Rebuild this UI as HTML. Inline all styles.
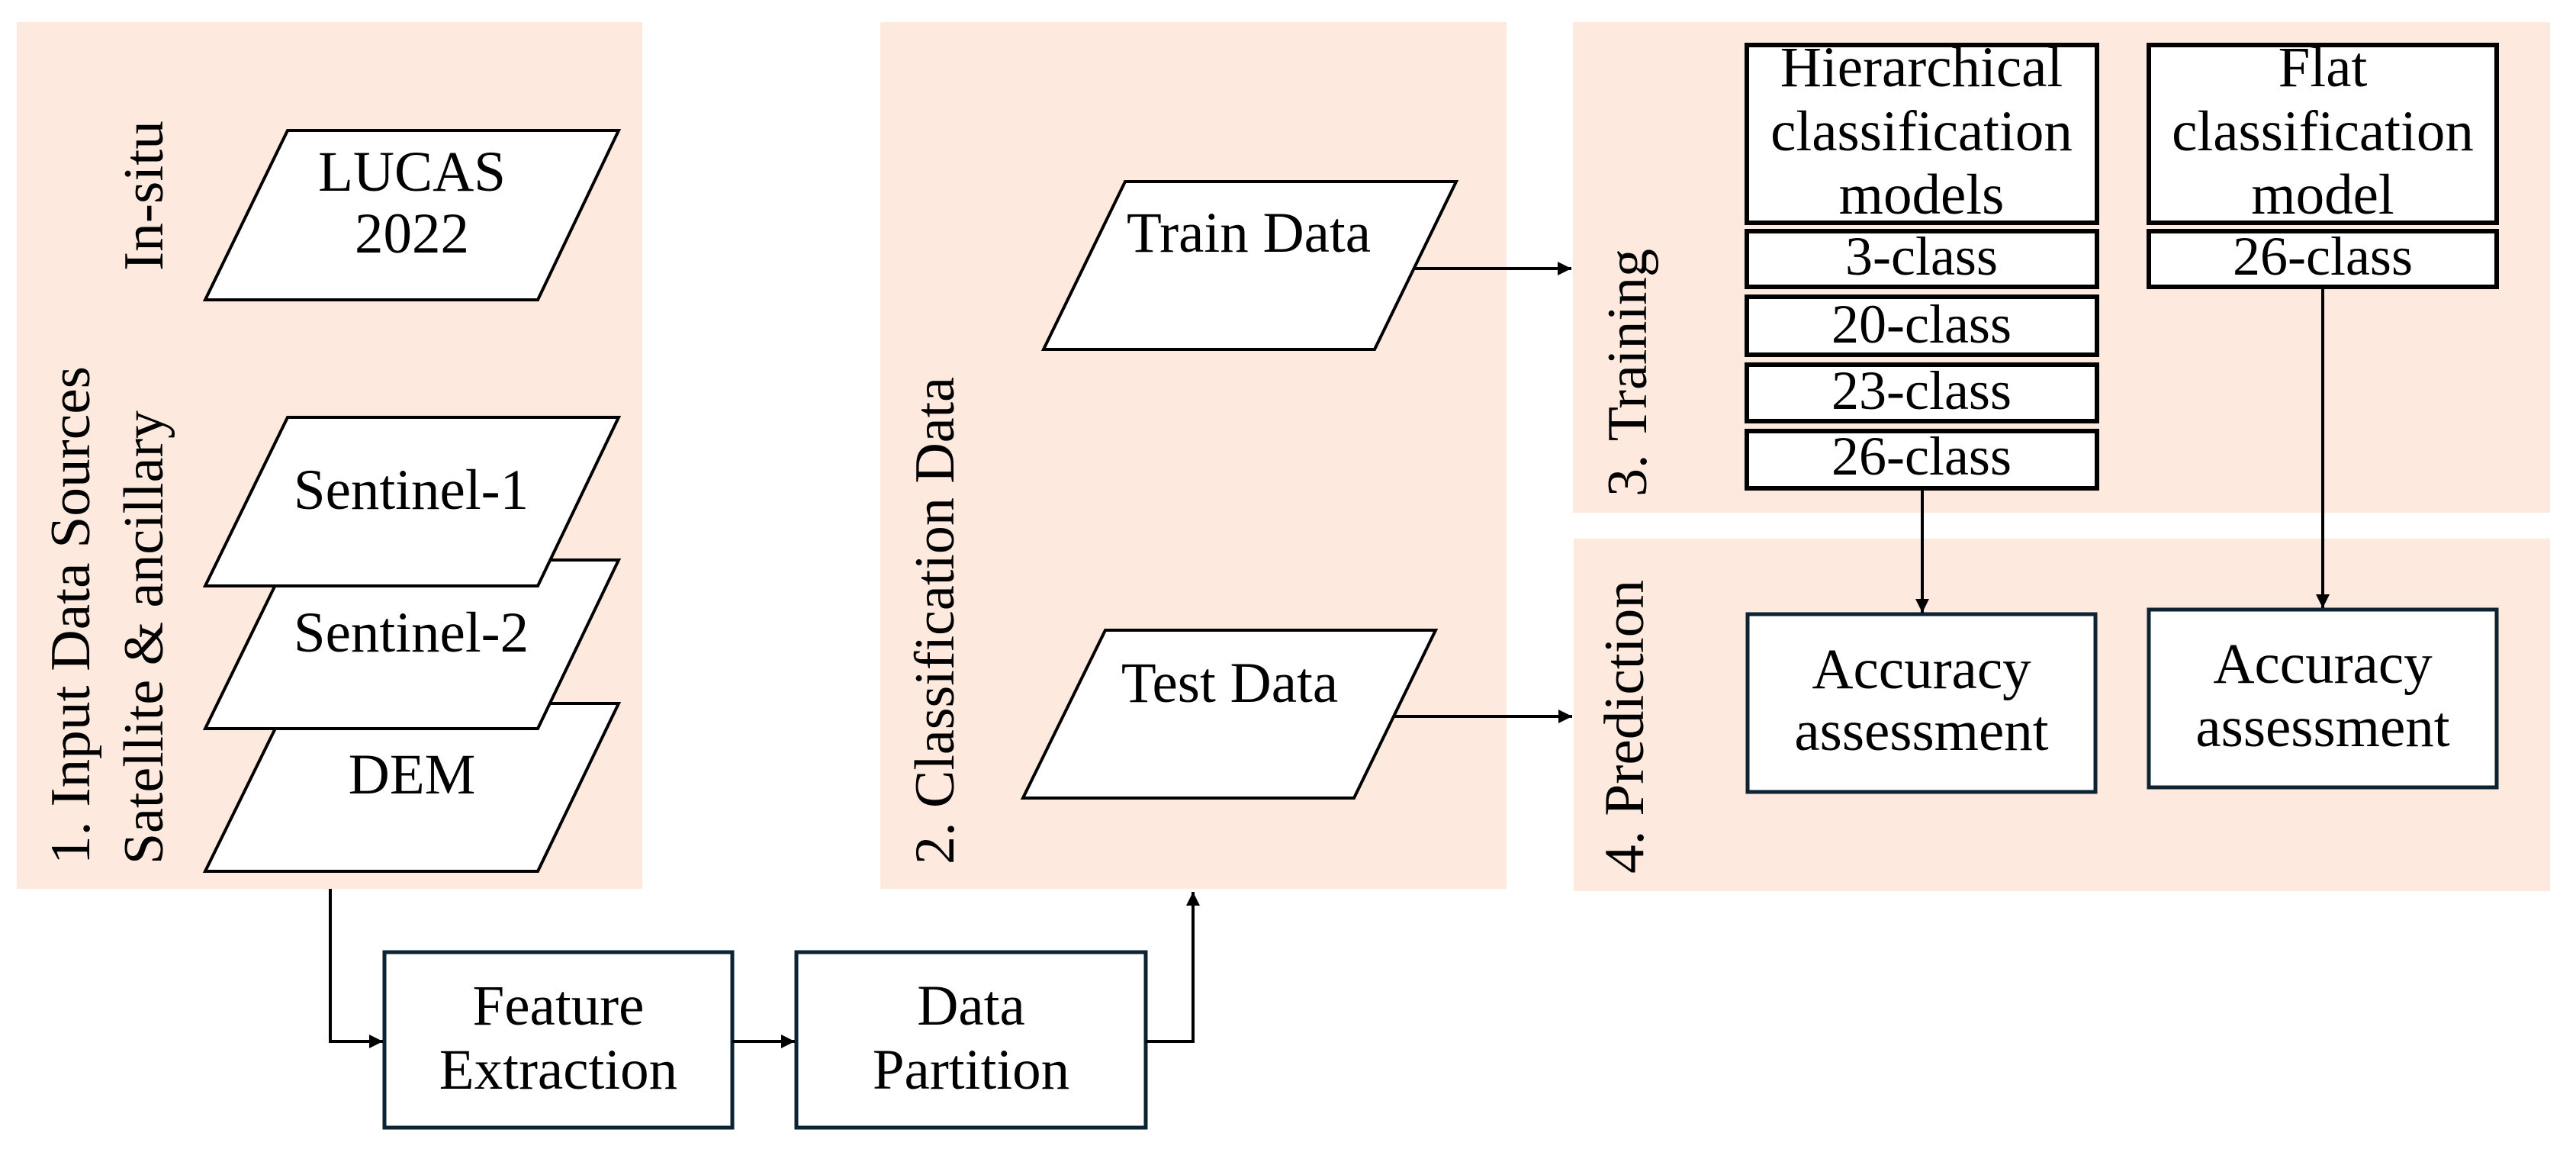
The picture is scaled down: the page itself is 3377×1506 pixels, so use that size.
<!DOCTYPE html>
<html><head><meta charset="utf-8"><style>
html,body{margin:0;padding:0;background:#fff;}
svg{display:block;}
text{font-family:"Liberation Serif",serif;fill:#000;}
</style></head><body>
<svg width="3377" height="1506" viewBox="0 0 3377 1506" xmlns="http://www.w3.org/2000/svg">
<defs>
<marker id="ah" viewBox="0 0 10 10" refX="10" refY="5" markerWidth="4.5" markerHeight="4.5" orient="auto" markerUnits="strokeWidth">
<path d="M0,0 L10,5 L0,10 z" fill="#000"/></marker>
</defs>
<!-- panels -->
<rect x="22" y="29" width="820" height="1136" fill="#fde9dd"/>
<rect x="1154" y="29" width="821" height="1136" fill="#fde9dd"/>
<rect x="2062" y="29" width="1281" height="643" fill="#fde9dd"/>
<rect x="2063" y="706" width="1280" height="462" fill="#fde9dd"/>

<!-- vertical labels -->
<text transform="translate(117,1133) rotate(-90)" font-size="74" textLength="653" lengthAdjust="spacingAndGlyphs">1. Input Data Sources</text>
<text transform="translate(213,1133) rotate(-90)" font-size="74" textLength="595" lengthAdjust="spacingAndGlyphs">Satellite &amp; ancillary</text>
<text transform="translate(213,355) rotate(-90)" font-size="74" textLength="197" lengthAdjust="spacingAndGlyphs">In-situ</text>
<text transform="translate(1250,1133) rotate(-90)" font-size="74" textLength="639" lengthAdjust="spacingAndGlyphs">2. Classification Data</text>
<text transform="translate(2158,651) rotate(-90)" font-size="74" textLength="325" lengthAdjust="spacingAndGlyphs">3. Training</text>
<text transform="translate(2154,1145) rotate(-90)" font-size="74" textLength="385" lengthAdjust="spacingAndGlyphs">4. Prediction</text>

<!-- parallelograms panel 1 -->
<g fill="#fff" stroke="#000" stroke-width="4">
<polygon points="377,171 811,171 705,393 269,393"/>
<polygon points="377,922 811,922 705,1142 269,1142"/>
<polygon points="377,734 811,734 705,955 269,955"/>
<polygon points="377,547 811,547 705,768 269,768"/>
<polygon points="1475,238 1909,238 1802,458 1368,458"/>
<polygon points="1449,826 1882,826 1775,1046 1341,1046"/>
</g>
<g font-size="75" text-anchor="middle">
<text x="540" y="250">LUCAS</text>
<text x="540" y="331">2022</text>
<text x="539" y="667">Sentinel-1</text>
<text x="539" y="854">Sentinel-2</text>
<text x="540" y="1040">DEM</text>
<text x="1637" y="330">Train Data</text>
<text x="1612" y="920">Test Data</text>
</g>

<!-- bottom boxes -->
<g fill="#fff" stroke="#0b2333" stroke-width="5">
<rect x="504" y="1248" width="456" height="230"/>
<rect x="1044" y="1248" width="458" height="230"/>
<rect x="2291" y="805" width="456" height="233"/>
<rect x="2817" y="799" width="456" height="233"/>
</g>
<g font-size="75" text-anchor="middle">
<text x="732" y="1343">Feature</text>
<text x="732" y="1427">Extraction</text>
<text x="1273" y="1343">Data</text>
<text x="1273" y="1427">Partition</text>
<text x="2519" y="902">Accuracy</text>
<text x="2519" y="983">assessment</text>
<text x="3045" y="895">Accuracy</text>
<text x="3045" y="978">assessment</text>
</g>

<!-- training boxes -->
<g fill="#fff" stroke="#000" stroke-width="6">
<rect x="2290" y="59" width="459" height="233"/>
<rect x="2290" y="303" width="459" height="73"/>
<rect x="2290" y="389" width="459" height="76"/>
<rect x="2290" y="478" width="459" height="74"/>
<rect x="2290" y="565" width="459" height="75"/>
<rect x="2817" y="59" width="456" height="233"/>
<rect x="2817" y="303" width="456" height="73"/>
</g>
<g font-size="75" text-anchor="middle">
<text x="2519" y="113">Hierarchical</text>
<text x="2519" y="197">classification</text>
<text x="2519" y="280">models</text>
<text x="3045" y="113">Flat</text>
<text x="3045" y="197">classification</text>
<text x="3045" y="280">model</text>
</g>
<g font-size="72" text-anchor="middle">
<text x="2519" y="360">3-class</text>
<text x="2519" y="449">20-class</text>
<text x="2519" y="536">23-class</text>
<text x="2519" y="622">26-class</text>
<text x="3045" y="360">26-class</text>
</g>

<!-- connectors -->
<g fill="none" stroke="#000" stroke-width="4" marker-end="url(#ah)">
<polyline points="433,1165 433,1365 502,1365"/>
<line x1="960" y1="1365" x2="1042" y2="1365"/>
<polyline points="1502,1365 1564,1365 1564,1169"/>
<line x1="1855" y1="352" x2="2060" y2="352"/>
<line x1="1828" y1="939" x2="2061" y2="939"/>
<line x1="2520" y1="643" x2="2520" y2="803"/>
<line x1="3045" y1="379" x2="3045" y2="797"/>
</g>
</svg>
</body></html>
